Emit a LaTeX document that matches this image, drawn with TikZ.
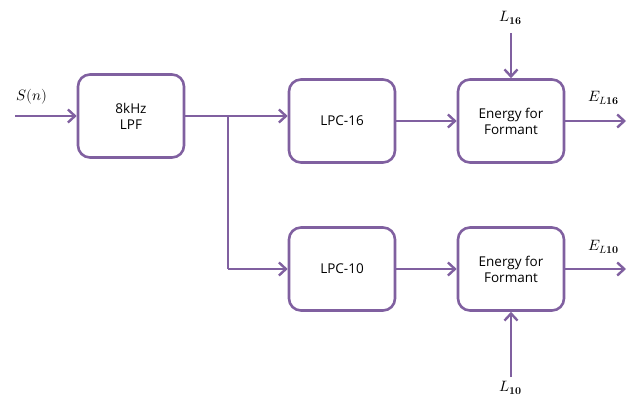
\documentclass[tikz,border=0pt]{standalone}
\usepackage{fontspec}
\setmainfont{Open Sans}
\usepackage{unicode-math}
\setmathfont{Latin Modern Math}
\usetikzlibrary{arrows.meta}
\definecolor{lineviolet}{RGB}{128,96,160}
\tikzset{
  block/.style={draw=lineviolet, line width=2.6pt, rounded corners=12pt, fill=white,
    minimum width=106pt, minimum height=83pt, align=center, font=\fontsize{13.5}{16}\selectfont},
  flow/.style={draw=lineviolet, line width=2.6pt, -{Straight Barb[length=7pt,width=13pt,line width=2.4pt]}},
  wire/.style={draw=lineviolet, line width=2.6pt},
  lab/.style={font=\fontsize{15}{17}\selectfont}
}
\begin{document}
\begin{tikzpicture}[x=1pt,y=-1pt]
\useasboundingbox (0,0) rectangle (630,396);
\node[block] (lpf) at (131,116) {8kHz\\LPF};
\node[block] (lpc16) at (342,121) {LPC-16};
\node[block] (en16) at (511,121) {Energy for\\Formant};
\node[block] (lpc10) at (342,269) {LPC-10};
\node[block] (en10) at (511,269) {Energy for\\Formant};

\coordinate (in) at (15,116);
\coordinate (split) at (228,116);
\coordinate (bend) at (228,269);
\coordinate (out16) at (626,121);
\coordinate (out10) at (626,269);
\coordinate (l16top) at (511,33);
\coordinate (l10bot) at (511,377);

\node[lab] (sn) at (32,97) {$S(n)$};
\node[lab] (l16) at (511,18) {$L_{\symbf{16}}$};
\node[lab] (l10) at (511,388) {$L_{\symbf{10}}$};
\node[lab] (e16) at (604,98) {$E_{L\symbf{16}}$};
\node[lab] (e10) at (604,247) {$E_{L\symbf{10}}$};

\draw[flow] (in) -- (lpf.west |- in);
\draw[flow] (lpf.east |- split) -- (lpc16.west |- split);
\draw[wire] (split) -- (bend);
\draw[flow] (bend) -- (lpc10.west);
\draw[flow] (lpc16) -- (en16);
\draw[flow] (lpc10) -- (en10);
\draw[flow] (en16) -- (out16);
\draw[flow] (en10) -- (out10);
\draw[flow] (l16top) -- (en16.north);
\draw[flow] (l10bot) -- (en10.south);
\end{tikzpicture}
\end{document}
